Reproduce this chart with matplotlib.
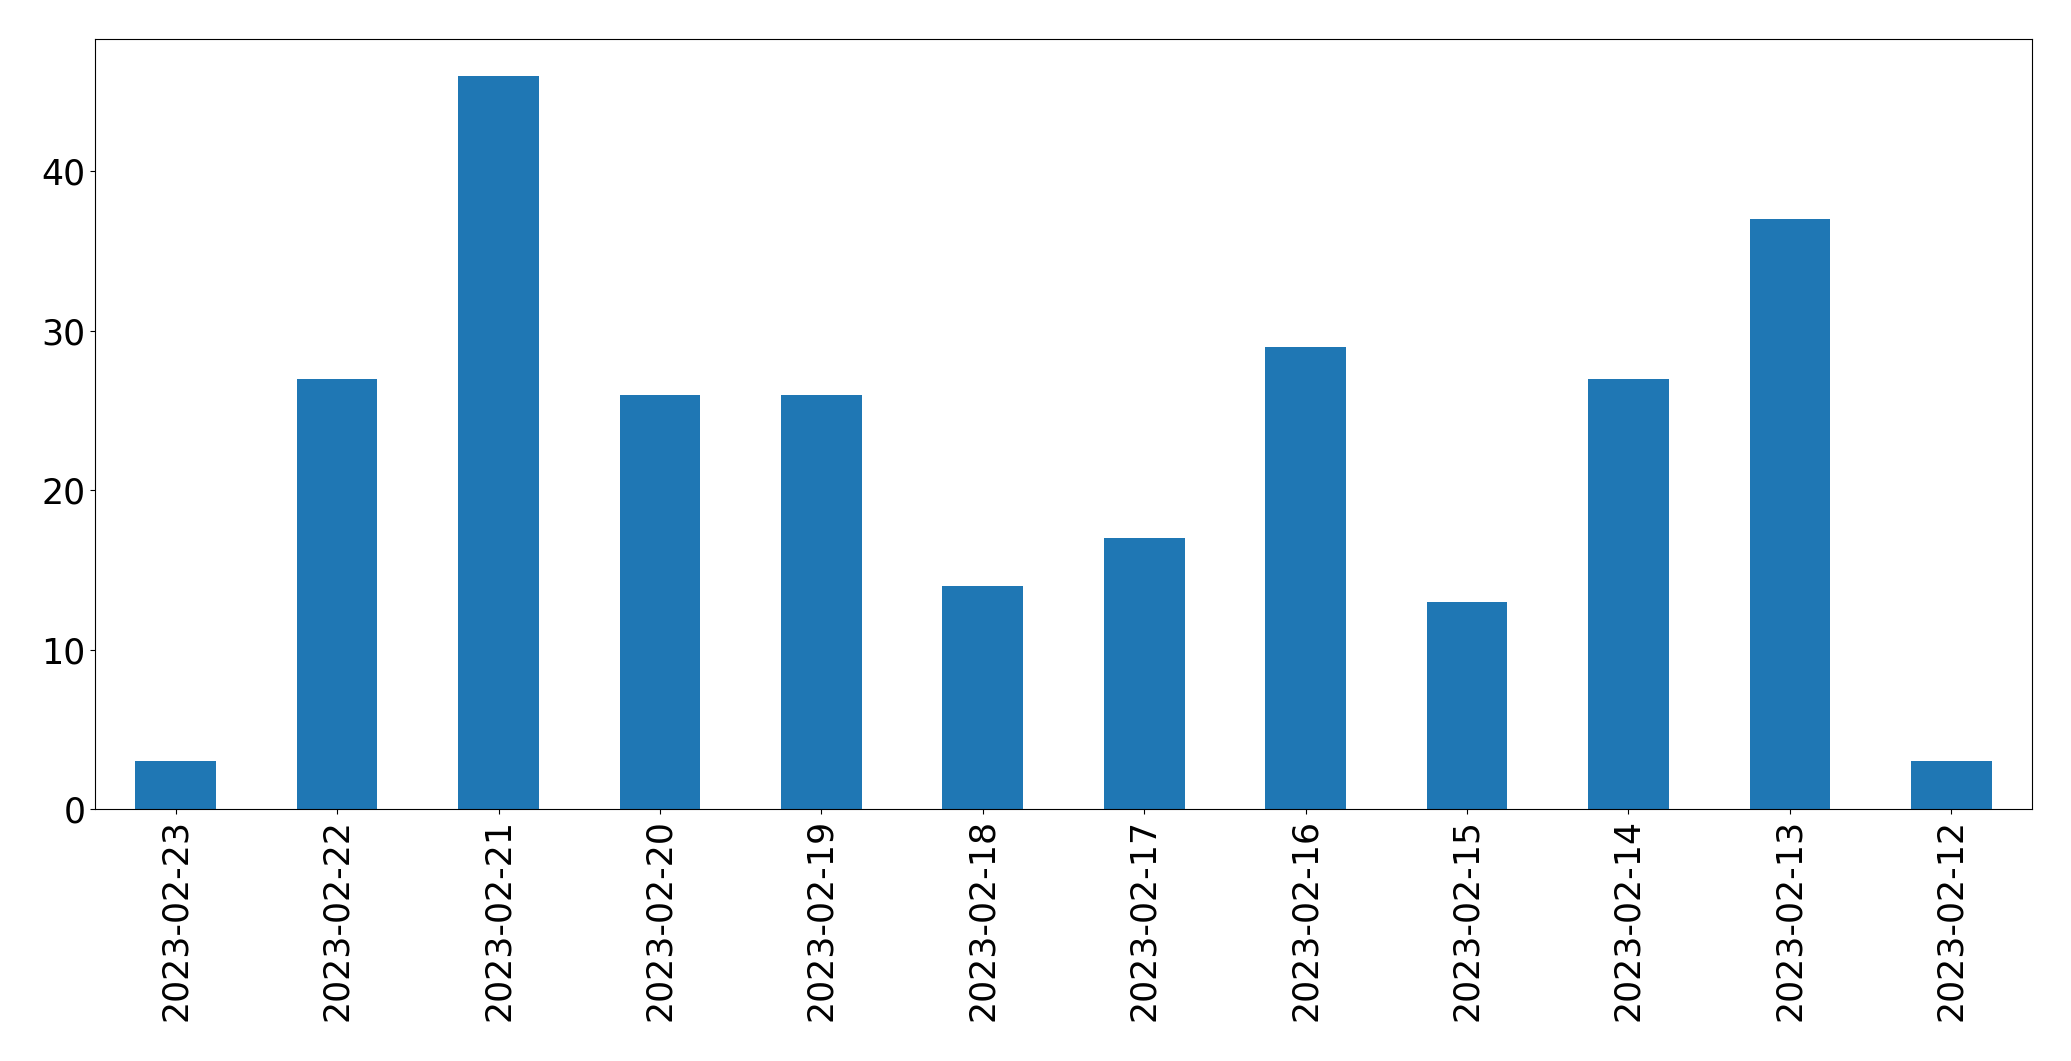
import matplotlib
matplotlib.use("Agg")
import matplotlib.pyplot as plt

dates = ["2023-02-23", "2023-02-22", "2023-02-21", "2023-02-20", "2023-02-19", "2023-02-18",
         "2023-02-17", "2023-02-16", "2023-02-15", "2023-02-14", "2023-02-13", "2023-02-12"]
counts = [3, 27, 46, 26, 26, 14, 17, 29, 13, 27, 37, 3]

fig = plt.figure(figsize=(20.71, 10.61), dpi=100)
ax = fig.add_axes([95/2071, 1 - 809/1061, (2032-95)/2071, (809-39)/1061])
x = range(len(dates))
ax.bar(x, counts, width=0.5, color="#1f77b4")
ax.set_xlim(-0.5, len(dates) - 0.5)
ax.set_ylim(0, max(counts) * 1.05)
ax.set_xticks(list(x))
ax.set_xticklabels(dates, rotation=90, fontsize=25)
ax.set_yticks([0, 10, 20, 30, 40])
ax.tick_params(axis="y", labelsize=25)
fig.savefig("out.png", dpi=100)
